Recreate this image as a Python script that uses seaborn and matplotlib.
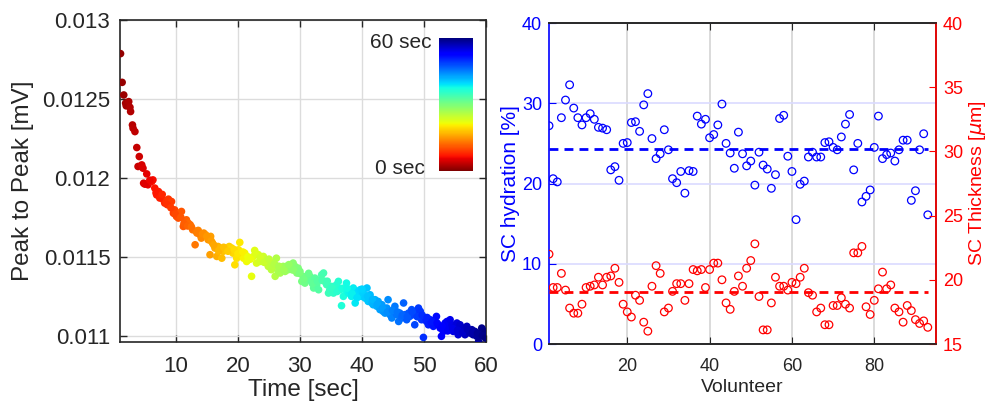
import numpy as np
import pandas as pd
import matplotlib
matplotlib.use('Agg')
import matplotlib.pyplot as plt
import seaborn as sns
from matplotlib.ticker import FormatStrFormatter
from matplotlib.cm import ScalarMappable
from matplotlib.colors import Normalize

# left panel: peak-to-peak amplitude over time
time_sec = [
    1.08, 1.34, 1.6, 1.9, 2.0, 2.4, 2.6, 2.7, 3.0, 3.1, 3.4, 3.7, 4.1, 3.9, 4.5, 4.7, 5.3, 4.8,
    5.5, 6.1, 6.3, 6.6, 6.9, 7.2, 7.5, 8.0, 8.2, 8.5, 8.8, 9.0, 9.3, 9.6, 9.8, 10.1, 10.4,
    10.6, 10.9, 11.2, 11.5, 11.7, 12.0, 12.3, 12.7, 13.1, 13.3, 13.6, 13.9, 14.1, 14.5, 14.8,
    15.2, 15.5, 15.6, 15.9, 16.3, 16.6, 16.8, 17.1, 17.4, 17.6, 17.9, 18.2, 18.6, 19.0, 19.2,
    19.5, 19.8, 20.1, 20.3, 20.6, 20.9, 21.1, 21.4, 21.7, 22.2, 22.5, 22.7, 23.0, 23.3, 23.5,
    23.8, 24.1, 24.4, 24.6, 24.9, 25.2, 25.4, 25.7, 26.0, 26.2, 26.5, 26.8, 27.0, 27.3, 27.6,
    27.8, 28.1, 28.4, 28.7, 28.9, 29.2, 29.5, 29.7, 30.0, 30.3, 30.5, 30.8, 31.1, 31.3, 31.6,
    31.9, 32.2, 32.4, 32.7, 33.0, 33.2, 33.5, 33.8, 34.0, 34.3, 34.6, 34.8, 35.1, 35.4, 35.6,
    35.9, 36.2, 36.5, 36.7, 37.0, 37.3, 37.5, 37.8, 38.1, 38.3, 38.6, 38.9, 39.1, 39.4, 39.7,
    39.9, 40.2, 40.5, 40.8, 41.0, 41.3, 41.6, 41.8, 42.1, 42.4, 42.6, 42.9, 43.2, 43.4, 43.7,
    44.0, 44.2, 44.5, 44.8, 45.1, 45.3, 45.6, 45.9, 46.1, 46.4, 46.7, 46.9, 47.2, 47.5, 47.7,
    48.0, 48.3, 48.5, 48.8, 49.1, 49.4, 49.6, 49.9, 50.2, 50.4, 50.7, 51.0, 51.2, 51.5, 51.8,
    52.0, 52.3, 52.6, 52.8, 53.1, 53.4, 53.7, 53.9, 54.2, 54.5, 54.7, 55.0, 55.3, 55.5, 55.8,
    56.1, 56.3, 56.6, 56.9, 57.1, 57.4, 57.7, 57.9, 58.2, 58.5, 58.8, 59.0, 59.3, 59.6, 59.8,
    60.0,
    5.0, 5.8, 6.8, 7.4, 7.8, 8.6, 9.2, 9.9, 10.8, 11.3, 11.9, 12.5, 13.4, 14.3, 15.0, 15.7,
    16.1, 16.9, 17.7, 18.4, 19.4, 20.0, 20.8, 21.6, 22.0, 22.9, 23.6, 24.2, 25.0, 25.9, 26.6,
    27.4, 28.2, 29.0, 29.9, 30.6, 31.4, 32.0, 32.8, 33.6, 34.4, 35.2, 36.0, 36.8, 37.6, 38.4,
    39.2, 40.0, 40.9, 41.7, 42.5, 43.3, 44.1, 44.9, 45.7, 46.5, 47.3, 48.1, 48.9, 49.7, 50.5,
    51.3, 52.1, 52.9, 53.8, 54.6, 55.4, 56.2, 57.0, 57.8, 58.6, 59.4, 59.9,
]
peak_mv = [
    0.012787, 0.012605, 0.012525, 0.012473, 0.012456, 0.012483, 0.012447, 0.012420, 0.012335,
    0.012314, 0.012293, 0.012192, 0.012135, 0.012072, 0.012082, 0.012061, 0.012025, 0.011966,
    0.011956, 0.011977, 0.011987, 0.011935, 0.011892, 0.011913, 0.011882, 0.011861, 0.011840,
    0.011850, 0.011865, 0.011829, 0.011850, 0.011776, 0.011797, 0.011755, 0.011745, 0.011776,
    0.011787, 0.011692, 0.011724, 0.011734, 0.011713, 0.011703, 0.011671, 0.011576, 0.011660,
    0.011667, 0.011639, 0.011618, 0.011650, 0.011639, 0.011608, 0.011513, 0.011629, 0.011587,
    0.011555, 0.011502, 0.011565, 0.011555, 0.011491, 0.011534, 0.011544, 0.011555, 0.011565,
    0.011555, 0.011523, 0.011449, 0.011491, 0.011544, 0.011591, 0.011513, 0.011491, 0.011523,
    0.011470, 0.011481, 0.011376, 0.011502, 0.011540, 0.011460, 0.011513, 0.011470, 0.011491,
    0.011502, 0.011481, 0.011460, 0.011439, 0.011470, 0.011418, 0.011439, 0.011376, 0.011491,
    0.011407, 0.011397, 0.011428, 0.011439, 0.011407, 0.011439, 0.011418, 0.011439, 0.011418,
    0.011460, 0.011439, 0.011397, 0.011428, 0.011407, 0.011344, 0.011376, 0.011333, 0.011365,
    0.011354, 0.011376, 0.011344, 0.011302, 0.011365, 0.011323, 0.011291, 0.011354, 0.011386,
    0.011397, 0.011344, 0.011323, 0.011270, 0.011291, 0.011312, 0.011270, 0.011312, 0.011323,
    0.011344, 0.011291, 0.011190, 0.011249, 0.011291, 0.011333, 0.011270, 0.011280, 0.011249,
    0.011302, 0.011207, 0.011259, 0.011280, 0.011291, 0.011249, 0.011270, 0.011238, 0.011302,
    0.011217, 0.011259, 0.011207, 0.011196, 0.011228, 0.011186, 0.011217, 0.011165, 0.011196,
    0.011154, 0.011143, 0.011175, 0.011228, 0.011133, 0.011112, 0.011154, 0.011186, 0.011133,
    0.011090, 0.011143, 0.011112, 0.011207, 0.011133, 0.011101, 0.011143, 0.011122, 0.011165,
    0.011133, 0.011069, 0.011143, 0.011175, 0.011154, 0.011101, 0.010989, 0.011112, 0.011090,
    0.011069, 0.011101, 0.011080, 0.011059, 0.011090, 0.011122, 0.011069, 0.011048, 0.010996,
    0.011027, 0.011080, 0.011090, 0.011048, 0.011101, 0.011069, 0.011027, 0.011059, 0.011080,
    0.011006, 0.011069, 0.011038, 0.011048, 0.011006, 0.011059, 0.011027, 0.011017, 0.011038,
    0.011006, 0.011027, 0.010996, 0.010964, 0.011017, 0.011048, 0.011006, 0.011006, 0.011027,
    0.011960, 0.011985, 0.011905, 0.011872, 0.011895, 0.011830, 0.011810, 0.011770, 0.011750,
    0.011710, 0.011695, 0.011690, 0.011650, 0.011645, 0.011630, 0.011600, 0.011575, 0.011535,
    0.011560, 0.011535, 0.011545, 0.011520, 0.011530, 0.011500, 0.011485, 0.011520, 0.011495,
    0.011465, 0.011485, 0.011455, 0.011440, 0.011420, 0.011450, 0.011415, 0.011395, 0.011360,
    0.011395, 0.011330, 0.011345, 0.011350, 0.011345, 0.011300, 0.011280, 0.011300, 0.011300,
    0.011265, 0.011240, 0.011295, 0.011250, 0.011230, 0.011200, 0.011175, 0.011150, 0.011160,
    0.011150, 0.011130, 0.011120, 0.011150, 0.011120, 0.011130, 0.011115, 0.011090, 0.011080,
    0.011060, 0.011030, 0.011045, 0.011035, 0.011020, 0.011040, 0.011020, 0.011015, 0.011000,
    0.010985,
]

# right panel: per-volunteer hydration and thickness
volunteer = list(range(1, 94))
hydration = [
    27.2, 20.6, 20.2, 28.2, 30.4, 32.3, 29.4, 28.2, 27.3, 28.2,
    28.7, 28.0, 27.0, 26.9, 26.7, 21.7, 22.1, 20.4, 25.0, 25.1,
    27.6, 27.7, 26.5, 29.8, 31.2, 25.6, 23.1, 23.7, 26.7, 24.2,
    20.6, 20.1, 21.5, 18.8, 21.6, 21.5, 28.4, 27.4, 28.0, 25.7,
    26.1, 27.3, 29.9, 25.0, 23.8, 21.9, 26.4, 23.7, 22.2, 22.8,
    19.8, 23.9, 22.3, 21.8, 19.4, 21.1, 28.1, 28.5, 23.4, 21.5,
    15.5, 19.9, 20.3, 23.3, 23.9, 23.3, 23.3, 25.1, 25.2, 24.5,
    24.2, 25.8, 27.4, 28.6, 21.7, 25.0, 17.7, 18.4, 19.2, 24.5,
    28.4, 23.1, 23.6, 23.8, 22.8, 24.2, 25.4, 25.4, 17.9, 19.1,
    24.2, 26.2, 16.1,
]
thickness = [
    22.0, 19.4, 19.4, 20.5, 19.2, 17.8, 17.4, 17.4, 18.1, 19.4,
    19.5, 19.6, 20.2, 19.6, 20.2, 20.3, 20.9, 19.8, 18.1, 17.5,
    17.1, 18.8, 18.4, 16.7, 16.0, 19.5, 21.1, 20.5, 17.5, 17.8,
    19.1, 19.7, 19.7, 18.4, 19.7, 20.8, 20.7, 20.8, 19.4, 20.8,
    21.3, 21.3, 20.0, 18.2, 17.7, 19.1, 20.3, 19.5, 20.9, 21.5,
    22.8, 18.7, 16.1, 16.1, 18.2, 20.2, 19.5, 19.5, 19.2, 19.8,
    19.7, 20.2, 20.9, 19.0, 18.8, 17.5, 17.8, 16.5, 16.5, 18.0,
    18.0, 18.6, 18.1, 17.8, 22.1, 22.1, 22.6, 17.9, 17.3, 18.4,
    19.3, 20.6, 19.3, 19.6, 17.8, 17.5, 16.7, 18.0, 17.6, 16.9,
    16.6, 16.8, 16.3,
]

BLUE = '#0000ff'
RED = '#ff0000'
DARK = '#262626'

sns.set_style('ticks')
plt.rcParams['font.family'] = ['Liberation Sans', 'DejaVu Sans']
plt.rcParams['axes.edgecolor'] = DARK
plt.rcParams['xtick.color'] = DARK
plt.rcParams['ytick.color'] = DARK

decay = pd.DataFrame({'t': time_sec, 'p2p': peak_mv})
vol = pd.DataFrame({'v': volunteer, 'hyd': hydration, 'thk': thickness})

fig = plt.figure(figsize=(9.88, 4.05), dpi=100)

# ---- left: decay scatter coloured by time
ax1 = fig.add_axes([0.1215, 0.1556, 0.3705, 0.795])
sns.scatterplot(data=decay, x='t', y='p2p', hue='t', palette='jet_r',
                hue_norm=(0, 60), legend=False, s=30, linewidth=0, ax=ax1, zorder=3)
ax1.set_xlim(1, 60)
ax1.set_ylim(0.01096, 0.013)
ax1.set_xticks([10, 20, 30, 40, 50, 60])
ax1.set_yticks([0.011, 0.0115, 0.012, 0.0125, 0.013])
ax1.yaxis.set_major_formatter(FormatStrFormatter('%g'))
ax1.grid(True, color='#dcdcdc', linewidth=1)
ax1.tick_params(direction='in', top=True, right=True, length=5, width=1,
                labelsize=16, pad=7)
ax1.tick_params(axis='x', pad=10)
for sp in ax1.spines.values():
    sp.set_linewidth(1.2)
ax1.set_xlabel('Time [sec]', fontsize=17.5)
ax1.set_ylabel('Peak to Peak [mV]', fontsize=17.5)
ax1.xaxis.set_label_coords(0.5, -0.115)
ax1.yaxis.set_label_coords(-0.235, 0.5)

cax = fig.add_axes([0.4443, 0.578, 0.0344, 0.328])
cb = fig.colorbar(ScalarMappable(norm=Normalize(0, 60), cmap='jet_r'), cax=cax)
cb.set_ticks([])
cb.outline.set_visible(False)
fig.text(431 / 988, 1 - 42 / 405, '60 sec', ha='right', va='center', fontsize=15)
fig.text(425 / 988, 1 - 169 / 405, '0 sec', ha='right', va='center', fontsize=15)

# ---- right: hydration (left axis) and thickness (right axis)
ax2 = fig.add_axes([0.5557, 0.1506, 0.3917, 0.7926])
sns.scatterplot(data=vol, x='v', y='hyd', marker='o', s=30, facecolors='none',
                edgecolor=BLUE, linewidth=0.9, ax=ax2, zorder=3)
ax2.hlines(np.mean(hydration), volunteer[0], volunteer[-1], colors=BLUE,
           linestyles=(0, (3.2, 2.2)), linewidth=2, zorder=4)
ax2.set_xlim(1, 95)
ax2.set_ylim(0, 40)
ax2.set_xticks([20, 40, 60, 80])
ax2.set_yticks([0, 10, 20, 30, 40])
ax2.grid(axis='x', color='#d4d4d4', linewidth=1.2)
ax2.grid(axis='y', color='#dadaff', linewidth=1.2)
ax2.tick_params(direction='in', length=5, labelsize=13, top=True)
ax2.tick_params(axis='y', colors=BLUE, pad=5)
ax2.tick_params(axis='x', pad=10)
ax2.spines['left'].set_color(BLUE)
for sp in ax2.spines.values():
    sp.set_linewidth(1.2)
ax2.set_xlabel('Volunteer', fontsize=14)
ax2.set_ylabel('SC hydration [%]', fontsize=15, color=BLUE)
ax2.xaxis.set_label_coords(0.5, -0.11)
ax2.yaxis.set_label_coords(-0.075, 0.5)

ax3 = ax2.twinx()
sns.scatterplot(data=vol, x='v', y='thk', marker='o', s=30, facecolors='none',
                edgecolor=RED, linewidth=0.9, ax=ax3, zorder=3)
ax3.hlines(np.mean(thickness), volunteer[0], volunteer[-1], colors=RED,
           linestyles=(0, (3.2, 2.2)), linewidth=2, zorder=4)
ax3.set_ylim(15, 40)
ax3.set_yticks([15, 20, 25, 30, 35, 40])
ax3.tick_params(axis='y', direction='in', length=5, labelsize=13, colors=RED, pad=5)
ax3.spines['right'].set_color(RED)
ax3.spines['left'].set_visible(False)
for sp in ax3.spines.values():
    sp.set_linewidth(1.2)
ax3.set_ylabel('SC Thickness [$\\mu$m]', fontsize=14, color=RED)
ax3.yaxis.set_label_coords(1.08, 0.5)

fig.savefig('out.png', dpi=100)
